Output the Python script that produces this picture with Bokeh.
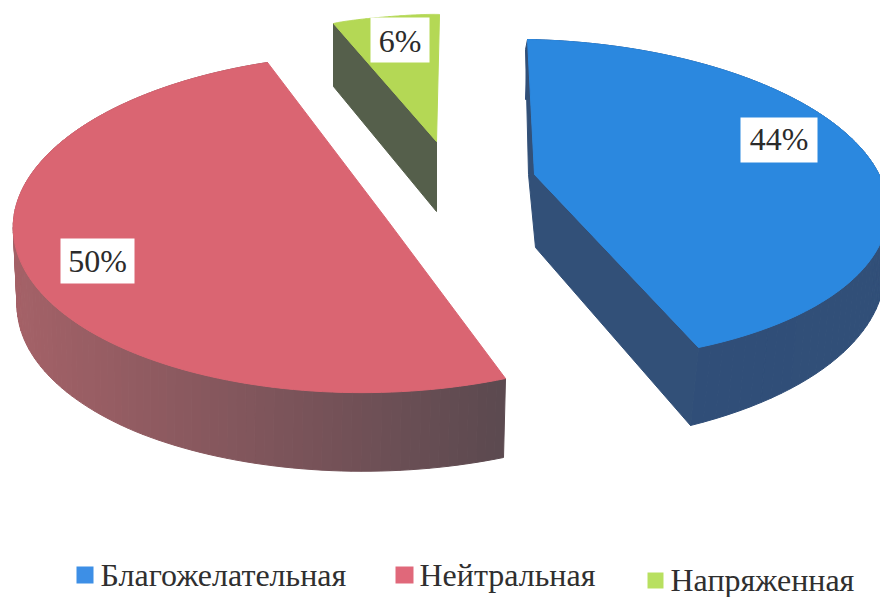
import numpy as np
from bokeh.plotting import figure
from bokeh.models import Range1d
from bokeh.core.properties import value
from bokeh.embed import file_html
from bokeh.resources import INLINE

categories = ["Благожелательная", "Нейтральная", "Напряженная"]
shares = [44, 50, 6]
labels = [f"{v}%" for v in shares]

top_colors = ["#2b88df", "#da6572", "#b4d855"]
legend_colors = ["#3d8fe6", "#e0687a", "#b8e060"]

# Placement of each exploded slice: four rim anchors (first, second, third, last along the rim);
# the third anchor's position along the rim is chosen to best follow the outline checks
rim_anchors = [
    [(527, 39), (753, 80), (880, 177), (698, 347)],
    [(505, 378), (135, 353), (13, 220), (267, 62)],
    [(333, 23), (368, 18), (404, 15), (439, 14)],
]
second_frac = [0.4, 1 / 3, 1 / 3]
outline_checks = [
    [(600, 43), (687, 60), (820, 113), (853, 140), (847, 283), (780, 323)],
    [(367, 392), (267, 387), (20, 277), (33, 167), (60, 142), (90, 120), (133, 100), (200, 75)],
    [(350, 20), (386, 16), (422, 14)],
]
apexes = [(534, 174), (387, 220), (436, 141)]
# Thickness of the wall, by fraction along the rim
depth_knots = [
    ([0, 0.5, 0.62, 0.75, 1], [-2, -3, -6, -3, -8], [60, 40, 40, 62, 78]),
    ([0, 1 / 3, 2 / 3, 1], [-2, 0, 5, 5], [79, 78, 75, 75]),
    ([0, 1], [0, 0], [63, 63]),
]
wall_from = [(50, 80, 120), (92, 74, 80), (85, 95, 75)]
wall_to = [(46, 76, 122), (165, 98, 104), (85, 95, 75)]
apex_drop = [(1, 73), None, (0, 70)]
label_boxes = [(740, 817, 117, 162), (60, 134, 238, 283), (370, 429, 17, 62)]
label_y = [138, 260, 40]
legend_boxes = [(76, 93, 566, 583), (395, 413, 566, 583), (647, 663, 572, 588)]
legend_text = [(100, 574), (419, 574), (670, 579)]


def homography(src, dst):
    rows = []
    for (x, y), (u, v) in zip(src, dst):
        rows.append([x, y, 1, 0, 0, 0, -u * x, -u * y, -u])
        rows.append([0, 0, 0, x, y, 1, -v * x, -v * y, -v])
    return np.linalg.svd(np.array(rows, dtype=float))[2][-1].reshape(3, 3)


def project(H, pts):
    q = H @ np.column_stack([pts, np.ones(len(pts))]).T
    return (q[:2] / q[2]).T


p = figure(width=880, height=597, x_range=Range1d(0, 880), y_range=Range1d(597, 0),
           x_axis_type=None, y_axis_type=None, toolbar_location=None,
           output_backend="svg", min_border=0, outline_line_color=None)
p.grid.visible = False

total = sum(shares)
cum = 0.0
start_angle = np.deg2rad(92)
fr = np.linspace(0, 1, 121)
for i, v in enumerate(shares):
    a0 = start_angle - 2 * np.pi * cum / total
    sweep = 2 * np.pi * v / total
    cum += v

    def disc(f):
        a = a0 - sweep * f
        return (np.cos(a), np.sin(a))

    fa = second_frac[i]
    circle = np.array([disc(f) for f in fr])
    anchors_arr = np.array(rim_anchors[i], dtype=float)
    lo, hi = anchors_arr.min(axis=0) - 60, anchors_arr.max(axis=0) + 60
    best = None
    for fb in np.linspace(fa + 0.05, 0.95, 60):
        H = homography([disc(0), disc(fa), disc(fb), disc(1)], rim_anchors[i])
        r = project(H, circle)
        if (r < lo).any() or (r > hi).any():
            continue
        err = sum(np.min(np.hypot(r[:, 0] - cx, r[:, 1] - cy)) for cx, cy in outline_checks[i])
        if best is None or err < best[0]:
            best = (err, r)
    rim = best[1]

    kf, kx, ky = depth_knots[i]
    sx, sy = np.interp(fr, kf, kx), np.interp(fr, kf, ky)
    low = rim + np.column_stack([sx, sy])

    # outer wall strips, shaded by horizontal position
    xmin, xmax = rim[:, 0].min(), rim[:, 0].max()
    xs, ys, cols = [], [], []
    if i != 2:
        for k in range(len(fr) - 1):
            xs.append([rim[k, 0], rim[k + 1, 0], low[k + 1, 0], low[k, 0]])
            ys.append([rim[k, 1], rim[k + 1, 1], low[k + 1, 1], low[k, 1]])
            t = max(0.0, min(1.0, (xmax - rim[k, 0]) / (xmax - xmin)))
            c = [int(a + (b - a) * t) for a, b in zip(wall_from[i], wall_to[i])]
            cols.append("#%02x%02x%02x" % tuple(c))
        p.patches(xs, ys, fill_color=cols, line_color=cols, line_width=1)

    # radial wall facing the viewer
    cx, cy = apexes[i]
    col = "#%02x%02x%02x" % wall_from[i]
    if i == 0:
        dx, dy = apex_drop[i]
        p.patch([rim[0, 0], cx, rim[-1, 0], low[-1, 0], cx + dx, cx - 6, rim[0, 0] - 2],
                [rim[0, 1], cy, rim[-1, 1], low[-1, 1], cy + dy, cy, rim[0, 1] + 10],
                fill_color=col, line_color=col, line_width=1)
    elif i == 2:
        dx, dy = apex_drop[i]
        p.patch([cx, rim[0, 0], low[0, 0], cx + dx], [cy, rim[0, 1], low[0, 1], cy + dy],
                fill_color=col, line_color=col, line_width=1)

    # top face
    p.patch(np.r_[cx, rim[:, 0]], np.r_[cy, rim[:, 1]],
            fill_color=top_colors[i], line_color=top_colors[i], line_width=1)

# value labels
for (x0, x1, y0, y1), ty, t in zip(label_boxes, label_y, labels):
    p.quad(left=[x0], right=[x1], top=[y0], bottom=[y1], fill_color="white", line_color=None)
    p.text(x=[(x0 + x1) / 2], y=[ty], text=[t], text_align="center",
           text_baseline="middle", text_font=value("Liberation Serif"),
           text_font_size="32px", text_color="#2b2b2b")

# legend
for (x0, x1, y0, y1), c, (tx, ty), name in zip(legend_boxes, legend_colors, legend_text, categories):
    p.quad(left=[x0], right=[x1], top=[y0], bottom=[y1], fill_color=c, line_color=None)
    p.text(x=[tx], y=[ty], text=[name], text_align="left", text_baseline="middle",
           text_font=value("Liberation Serif"), text_font_size="32px", text_color="#2f2f2f")

open("out.html", "w").write(file_html(p, INLINE))
